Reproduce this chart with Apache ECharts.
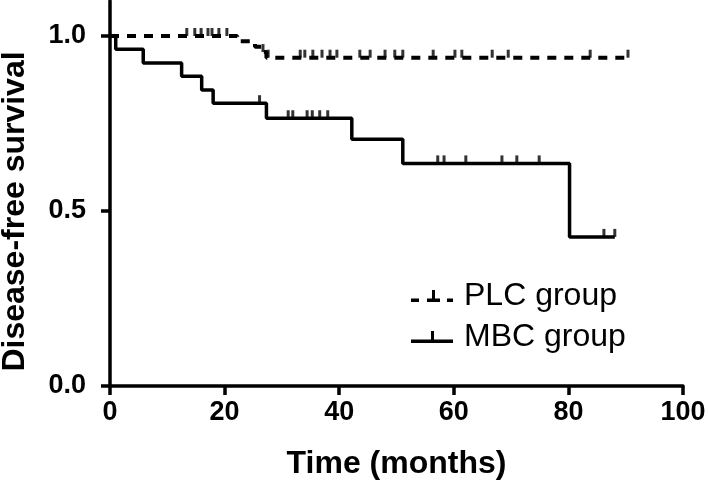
<!DOCTYPE html>
<html>
<head>
<meta charset="utf-8">
<script src="https://cdn.jsdelivr.net/npm/echarts@6/dist/echarts.min.js"></script>
<style>
  html, body { margin: 0; padding: 0; background: #fff; }
  #chart { width: 708px; height: 484px; }
</style>
</head>
<body>
<div id="chart"></div>
<script>
// Kaplan-Meier steps: time (months), survival after each event
const plcTimes = [0, 22.2, 25.3, 26.5, 27.3, 90.4]
const plcSurv = [1, 0.985, 0.969, 0.954, 0.938, 0.938]
const plcCensored = [13.4, 14.8, 15.9, 17.1, 17.8, 19.0, 20.4, 26.7, 27.6, 33.2, 34.0, 35.4, 37.0, 38.4,
  39.6, 43.6, 45.4, 48.0, 49.7, 51.1, 56.4, 60.2, 61.4, 66.7, 69.5, 83.8, 90.4]

const mbcTimes = [0, 1.0, 5.8, 12.5, 16, 18, 27.3, 42.2, 51.1, 80.2, 88.1]
const mbcSurv = [1, 0.962, 0.923, 0.885, 0.846, 0.808, 0.765, 0.705, 0.636, 0.426, 0.426]
const mbcCensored = [26.1, 31.1, 31.9, 34.4, 35.3, 36.6, 38.0, 57.2, 58.3, 62.1, 68.4, 71.0, 74.9, 86.2, 88.1]

const yTicks = [0, 0.5, 1]
const groupNames = ['PLC group', 'MBC group']

const FONT = '"Liberation Sans", Arial, sans-serif'
const INK = '#000'

// survival level of a step curve at time t
function survAt(times, surv, t) {
  let s = surv[0]
  for (let i = 0; i < times.length; i++) if (times[i] <= t) s = surv[i]
  return s
}

const pairs = (times, surv) => times.map((t, i) => [t, surv[i]])
const censorPts = (cens, times, surv) => cens.map((t) => [t, survAt(times, surv, t)])

const axisLineStyle = { color: INK, width: 3.5 }
const tickLabel = { color: INK, fontFamily: FONT, fontWeight: 'bold', fontSize: 27 }
const axisName = { color: INK, fontFamily: FONT, fontWeight: 'bold', fontSize: 32 }

const censorMark = {
  type: 'scatter',
  symbol: 'rect',
  symbolSize: [3, 8],
  symbolOffset: [0, -4],
  itemStyle: { color: INK },
  silent: true,
  z: 3,
}

const chart = echarts.init(document.getElementById('chart'), null, { renderer: 'canvas' })
chart.setOption({
  animation: false,
  backgroundColor: '#fff',
  grid: { left: 110, right: 25, top: 1, bottom: 98, outerBoundsMode: 'none' },
  legend: {
    orient: 'vertical',
    left: 406,
    top: 275,
    itemWidth: 42,
    itemHeight: 12,
    itemGap: 9,
    textStyle: { color: INK, fontFamily: FONT, fontSize: 32, padding: [0, 0, 10, 6] },
    itemStyle: { color: INK, borderWidth: 0 },
    data: [
      { name: groupNames[0], icon: 'path://M0,8.5H8V12H0Z M16,8.5H29V12H16Z M21,0H24V12H21Z M36,8.5H42V12H36Z' },
      { name: groupNames[1], icon: 'path://M0,8.5H42V12H0Z M20,0H23V12H20Z' },
    ],
  },
  xAxis: {
    type: 'value',
    min: 0,
    max: 100,
    interval: 20,
    name: 'Time (months)',
    nameLocation: 'middle',
    nameGap: 62,
    nameTextStyle: axisName,
    axisLine: { lineStyle: axisLineStyle },
    axisTick: { length: 9, lineStyle: axisLineStyle },
    axisLabel: { ...tickLabel, margin: 13 },
    splitLine: { show: false },
  },
  yAxis: {
    type: 'value',
    min: 0,
    max: 1.1,
    name: 'Disease-free survival',
    nameLocation: 'middle',
    nameRotate: 90,
    nameGap: 79,
    nameTextStyle: { ...axisName, padding: [0, 36, 0, 0] },
    axisLine: { lineStyle: axisLineStyle },
    axisTick: { length: 9, lineStyle: axisLineStyle, customValues: yTicks },
    axisLabel: { ...tickLabel, margin: 24, customValues: yTicks, formatter: (v) => v.toFixed(1) },
    splitLine: { show: false },
  },
  series: [
    {
      name: groupNames[0],
      type: 'line',
      step: 'end',
      symbol: 'none',
      data: pairs(plcTimes, plcSurv),
      itemStyle: { color: INK },
      lineStyle: { color: INK, width: 4, type: [9, 8] },
      z: 2,
    },
    {
      name: groupNames[1],
      type: 'line',
      step: 'end',
      symbol: 'none',
      data: pairs(mbcTimes, mbcSurv),
      itemStyle: { color: INK },
      lineStyle: { color: INK, width: 3.5 },
      z: 2,
    },
    { ...censorMark, name: 'PLC censored', data: censorPts(plcCensored, plcTimes, plcSurv) },
    { ...censorMark, name: 'MBC censored', data: censorPts(mbcCensored, mbcTimes, mbcSurv) },
  ],
})
</script>
</body>
</html>
